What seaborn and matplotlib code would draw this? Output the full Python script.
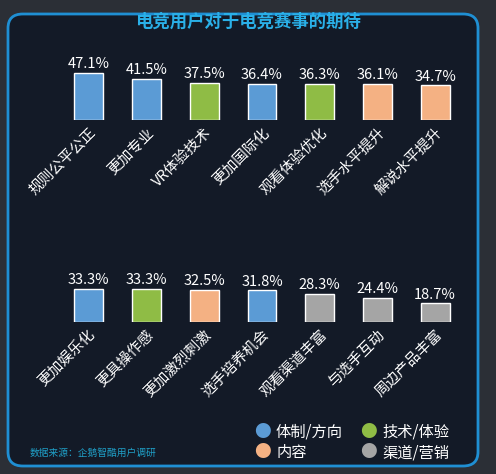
import matplotlib
matplotlib.use('Agg')
import matplotlib.pyplot as plt
from matplotlib.patches import FancyBboxPatch
import seaborn as sns
import pandas as pd

sns.set_style('white')
plt.rcParams['font.family'] = ['Noto Sans CJK SC', 'DejaVu Sans']

top_labels = ['规则公平公正', '更加专业', 'VR体验技术', '更加国际化', '观看体验优化', '选手水平提升', '解说水平提升']
top_values = [47.1, 41.5, 37.5, 36.4, 36.3, 36.1, 34.7]
top_groups = ['体制/方向', '体制/方向', '技术/体验', '体制/方向', '技术/体验', '内容', '内容']

bot_labels = ['更加娱乐化', '更具操作感', '更加激烈刺激', '选手培养机会', '观看渠道丰富', '与选手互动', '周边产品丰富']
bot_values = [33.3, 33.3, 32.5, 31.8, 28.3, 24.4, 18.7]
bot_groups = ['体制/方向', '技术/体验', '内容', '体制/方向', '渠道/营销', '渠道/营销', '渠道/营销']

palette = {'体制/方向': '#5b9bd5', '技术/体验': '#8fbc45', '内容': '#f4b183', '渠道/营销': '#a5a5a5'}

W, H = 496, 474
fig = plt.figure(figsize=(W / 100, H / 100), dpi=100)
fig.patch.set_facecolor('#2b2f36')
panel = FancyBboxPatch((8 / W, 8 / H), 470 / W, 452 / H, boxstyle='round,pad=0,rounding_size=0.03',
                       transform=fig.transFigure, facecolor='#131a27', edgecolor='#1f8fd3',
                       linewidth=2, zorder=-10)
fig.patches.append(panel)

fig.text(0.5, 1 - 22 / H, '电竞用户对于电竞赛事的期待', color='#2ab0e8', fontsize=12.5,
         fontweight='bold', ha='center', va='center')


def draw_row(labels, values, groups, bottom_px):
    ax = fig.add_axes([60 / W, 1 - bottom_px / H, 404 / W, 55 / H])
    df = pd.DataFrame({'label': labels, 'value': values, 'group': groups})
    sns.barplot(data=df, x='label', y='value', hue='group', palette=palette, dodge=False,
                legend=False, width=0.5, ax=ax, saturation=1)
    ax.set_ylim(0, 55)
    ax.set_facecolor('none')
    for s in ax.spines.values():
        s.set_visible(False)
    ax.set_yticks([])
    ax.set_xlabel('')
    ax.set_ylabel('')
    for i, v in enumerate(values):
        ax.text(i, v + 1.5, f'{v}%', color='white', ha='center', va='bottom', fontsize=10.5)
    ax.set_xticks(range(len(labels)))
    ax.set_xticklabels(labels, rotation=45, ha='right', rotation_mode='anchor', color='white', fontsize=10.5)
    ax.tick_params(axis='x', length=0, pad=4)


draw_row(top_labels, top_values, top_groups, 120)
draw_row(bot_labels, bot_values, bot_groups, 322)

fig.text(30 / W, 1 - 453 / H, '数据来源：企鹅智酷用户调研', color='#1fa0c8', fontsize=7, va='center')
legend_items = [('体制/方向', 262, 432), ('技术/体验', 368, 432), ('内容', 262, 453), ('渠道/营销', 368, 453)]
for name, x, y in legend_items:
    fig.text(x / W, 1 - y / H, '●', color=palette[name], fontsize=12, ha='center', va='center')
    fig.text((x + 14) / W, 1 - y / H, name, color='white', fontsize=11, va='center')

fig.savefig('out.png', dpi=100, facecolor=fig.get_facecolor())
